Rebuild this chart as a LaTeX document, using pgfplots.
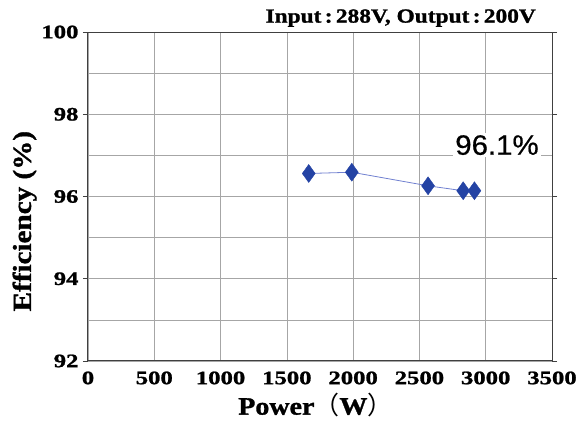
\documentclass[border=0pt]{standalone}
\usepackage{fontspec}
\setmainfont{Liberation Serif}
\newfontfamily\ticksfont[FakeStretch=1.3, FakeBold=1.2]{Liberation Serif Bold}
\newfontfamily\labelfont[FakeStretch=1.12, FakeBold=1.2]{Liberation Serif Bold}
\newfontfamily\titlefont[FakeStretch=1.17, FakeBold=1.2]{Liberation Serif Bold}
\newfontfamily\cjk{Noto Sans CJK SC}
\newfontfamily\arial[FakeStretch=1.05, FakeBold=0.6]{Liberation Sans}
\usepackage{pgfplots}
\pgfplotsset{compat=1.18}
\definecolor{markblue}{HTML}{2443A4}
\definecolor{lineblue}{HTML}{7080D0}
\begin{document}
\begin{tikzpicture}
\begin{axis}[
  scale only axis,
  width=464pt, height=329pt,
  xmin=0, xmax=3500, ymin=92, ymax=100,
  xtick={0,500,...,3500},
  ytick={92,94,...,100},
  minor ytick={93,95,97,99},
  grid=both,
  major grid style={draw=gray!70, line width=0.6pt},
  minor grid style={draw=gray!70, line width=0.6pt},
  axis line style={draw=black!75, line width=1pt},
  tick style={draw=black!75, line width=0.8pt},
  tick align=outside,
  major tick length=5pt,
  minor tick length=0pt,
  xtick style={draw=none},
  tick label style={font=\ticksfont\fontsize{19}{22}\selectfont},
  /pgf/number format/assume math mode=true,
  /pgf/number format/1000 sep={},
  xticklabel style={yshift=-2pt},
  yticklabel style={xshift=-1pt},
  xlabel={Power{\cjk（}W{\cjk）}},
  ylabel={Efficiency (\%)},
  xlabel style={font=\labelfont\fontsize{25}{28}\selectfont, at={(ticklabel cs:0.49)}, yshift=-2pt},
  ylabel style={font=\labelfont\fontsize{26}{29}\selectfont, at={(ticklabel cs:0.425)}, yshift=-2pt},
  clip=false,
]
\addplot[color=lineblue, line width=0.8pt, mark=diamond*, mark size=9pt,
  mark options={draw=markblue, fill=markblue, line width=0.4pt, xscale=0.96}]
  coordinates {(1665,96.56) (1990,96.59) (2565,96.26) (2830,96.14) (2915,96.14)};
\node[fill=white, inner sep=2pt, font=\arial\fontsize{28}{30}\selectfont] at (axis cs:3085,97.25) {96.1\%};
\node[anchor=south east, inner sep=0pt, font=\titlefont\fontsize{20}{23}\selectfont] at (axis cs:3380,100.12) {Input\,:\,288V, Output\,:\,200V};
\coordinate (o) at (rel axis cs:0,0);
\end{axis}
\path (o) ++(-88pt,-62pt) rectangle ++(587pt,423pt);
\end{tikzpicture}
\end{document}
